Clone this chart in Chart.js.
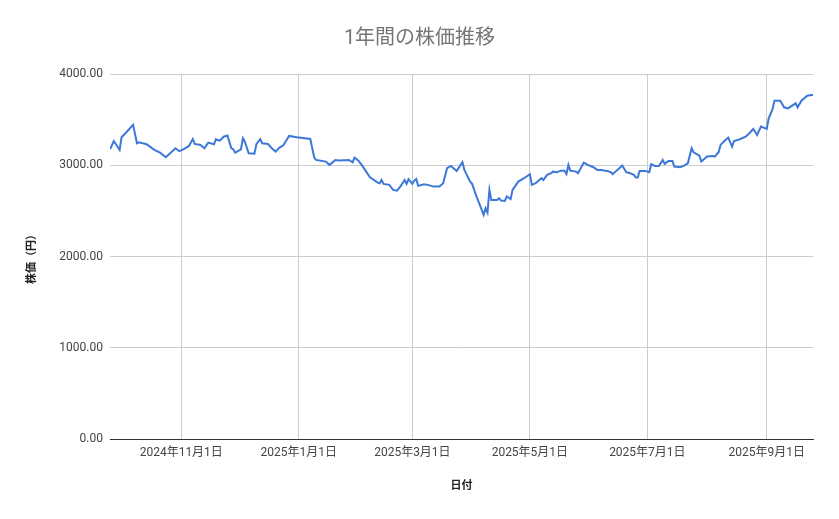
<!DOCTYPE html>
<html>
<head>
<meta charset="utf-8">
<script src="https://cdn.jsdelivr.net/npm/chart.js@4/dist/chart.umd.min.js"></script>
<style>
  html, body { margin: 0; padding: 0; background: #fff; }
  #wrap { width: 839px; height: 519px; }
</style>
</head>
<body>
<div id="wrap"><canvas id="stock-chart"></canvas></div>
<script>
// days counted from the first date on the chart
const startDate = '2024-09-25';
const dayOffsets = [
    0, 2, 5, 6, 8, 12, 14, 15, 19, 23, 26, 29, 34, 36, 38, 41, 43, 44, 47, 49,
    51, 54, 55, 57, 59, 61, 63, 64, 65, 68, 69, 70, 72, 75, 76, 78, 79, 82, 84, 86,
    88, 90, 93, 97, 104, 106, 107, 112, 114, 117, 119, 124, 126, 127, 129, 131, 135, 139, 140, 141,
    142, 145, 147, 149, 151, 153, 154, 155, 157, 158, 159, 160, 163, 165, 168, 171, 173, 175, 177, 180,
    183, 184, 187, 188, 190, 192, 194, 195, 196, 197, 198, 201, 202, 203, 205, 206, 208, 209, 212, 215,
    218, 219, 221, 224, 225, 227, 229, 230, 232, 234, 236, 237, 238, 239, 242, 243, 246, 248, 251, 253,
    255, 258, 260, 261, 263, 266, 268, 270, 272, 273, 274, 275, 278, 280, 281, 283, 285, 287, 288, 290,
    292, 293, 296, 298, 300, 302, 303, 306, 307, 310, 313, 314, 316, 317, 319, 321, 323, 324, 327, 330,
    332, 334, 336, 338, 341, 342, 344, 345, 348, 350, 352, 356, 357, 359, 362, 364, 365
];
const prices = [
    3175, 3266, 3168, 3307, 3351, 3442, 3241, 3252, 3230, 3168, 3138, 3088, 3186, 3154, 3175, 3212, 3288, 3234, 3223, 3186,
    3248, 3230, 3285, 3270, 3313, 3325, 3186, 3175, 3138, 3175, 3296, 3259, 3132, 3127, 3230, 3285, 3241, 3234, 3186, 3149,
    3193, 3219, 3321, 3307, 3288, 3088, 3058, 3040, 3004, 3058, 3051, 3058, 3033, 3084, 3051, 2993, 2869, 2810, 2803, 2839,
    2796, 2785, 2730, 2722, 2774, 2839, 2796, 2847, 2796, 2832, 2850, 2774, 2792, 2785, 2766, 2766, 2803, 2967, 2993, 2938,
    3033, 2949, 2821, 2796, 2675, 2566, 2456, 2529, 2481, 2730, 2620, 2620, 2639, 2613, 2609, 2657, 2628, 2730, 2821, 2858,
    2902, 2785, 2803, 2858, 2839, 2894, 2913, 2930, 2924, 2941, 2941, 2905, 3004, 2941, 2930, 2913, 3029, 3004, 2978, 2949,
    2949, 2938, 2924, 2902, 2941, 2996, 2924, 2913, 2894, 2865, 2865, 2938, 2938, 2924, 3011, 2993, 2993, 3058, 3015, 3047,
    3047, 2985, 2978, 2996, 3022, 3186, 3142, 3105, 3040, 3095, 3102, 3095, 3142, 3223, 3266, 3303, 3204, 3266, 3285, 3313,
    3351, 3398, 3332, 3423, 3398, 3515, 3614, 3708, 3708, 3635, 3624, 3679, 3635, 3708, 3762, 3770, 3770
];
const xTickDays = [37, 98, 157, 218, 279, 341];
const xTickLabels = ['2024年11月1日', '2025年1月1日', '2025年3月1日', '2025年5月1日', '2025年7月1日', '2025年9月1日'];
const yTicks = [0, 1000, 2000, 3000, 4000];

const FONT = "Roboto, 'Noto Sans CJK JP', sans-serif";

function dayToLabel(d) {
    let t = new Date(startDate + 'T00:00:00Z');
    t.setUTCDate(t.getUTCDate() + d);
    return t.getUTCFullYear() + '年' + (t.getUTCMonth() + 1) + '月' + t.getUTCDate() + '日';
}

let points = dayOffsets.map((d, i) => ({ x: d, y: prices[i] }));

let ctx = document.getElementById('stock-chart');
var chart = new Chart(ctx, {
    type: 'line',
    data: {
        datasets: [
            {
                label: '株価',
                data: points,
                borderColor: '#3c78d8',
                borderWidth: 2,
                pointRadius: 0,
                tension: 0,
                fill: false,
                yAxisID: 'y'
            }
        ]
    },
    options: {
        responsive: true,
        maintainAspectRatio: false,
        animation: false,
        layout: { padding: 0 },
        scales: {
            x: {
                type: 'linear',
                min: 0,
                max: 365,
                afterBuildTicks: (s) => { s.ticks = xTickDays.map(v => ({ value: v })); },
                afterFit: (s) => { s.height = 80; },
                grid: { color: '#cccccc', lineWidth: 1, drawTicks: false },
                border: { display: true, color: '#333333', width: 1 },
                ticks: {
                    autoSkip: false,
                    maxRotation: 0,
                    padding: 7,
                    color: '#444444',
                    font: { family: FONT, size: 12 },
                    callback: (v) => xTickLabels[xTickDays.indexOf(v)]
                },
                title: {
                    display: true,
                    text: '日付',
                    color: '#222222',
                    font: { family: FONT, size: 11, weight: 'bold' },
                    padding: { top: 0, bottom: 26 }
                }
            },
            y: {
                min: 0,
                max: 4000,
                afterBuildTicks: (s) => { s.ticks = yTicks.map(v => ({ value: v })); },
                afterFit: (s) => { s.width = 110; },
                grid: { color: '#cccccc', lineWidth: 1, drawTicks: false },
                border: { display: false },
                ticks: {
                    padding: 7,
                    color: '#444444',
                    font: { family: FONT, size: 12 },
                    callback: (v) => v.toFixed(2)
                },
                title: {
                    display: true,
                    text: '株価（円）',
                    color: '#222222',
                    font: { family: FONT, size: 11, weight: 'bold' },
                    padding: { top: 26, bottom: 0 }
                }
            },
            // empty strip on the right so the title stays centred on the page
            yRight: {
                position: 'right',
                min: 0,
                max: 4000,
                afterFit: (s) => { s.width = 26; },
                grid: { display: false, drawTicks: false },
                border: { display: false },
                ticks: { display: false }
            }
        },
        plugins: {
            legend: { display: false },
            title: {
                display: true,
                text: '1年間の株価推移',
                color: '#757575',
                font: { family: FONT, size: 20, weight: 'normal' },
                padding: { top: 27, bottom: 23 }
            },
            tooltip: {
                callbacks: {
                    title: (items) => dayToLabel(items[0].parsed.x)
                }
            }
        }
    }
});
</script>
</body>
</html>
